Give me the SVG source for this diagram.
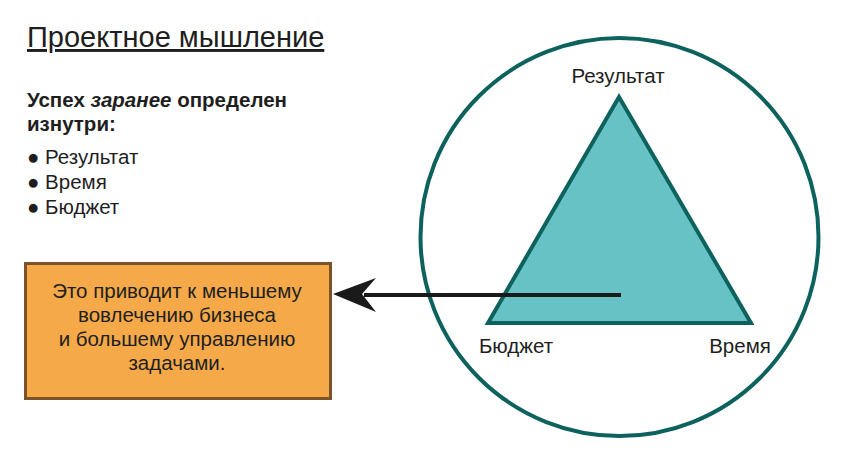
<svg xmlns="http://www.w3.org/2000/svg" width="844" height="463" viewBox="0 0 844 463">
<style>
.t{font-family:"Liberation Sans",Arial,sans-serif;fill:#1e1e1e}
.l{font-size:20.5px}
.b{font-size:20.5px;text-anchor:middle}
.n{font-size:20.5px;text-anchor:middle}
</style>
<rect width="844" height="463" fill="#ffffff"/>
<g id="title">
<text class="t" x="27" y="47" font-size="29" text-decoration="underline">Проектное мышление</text>
</g>
<g id="list">
<text class="t l" x="27" y="107" font-weight="bold">Успех <tspan font-style="italic">заранее</tspan> определен</text>
<text class="t l" x="27" y="131" font-weight="bold">изнутри:</text>
<text class="t l" x="27" y="164">● Результат</text>
<text class="t l" x="27" y="189">● Время</text>
<text class="t l" x="27" y="214">● Бюджет</text>
</g>
<g id="circle">
<circle cx="619.5" cy="237" r="199" fill="none" stroke="#0e625d" stroke-width="4"/>
</g>
<g id="triangle">
<polygon points="619,97 488,323 751,323" fill="#66c2c4" stroke="#0e625d" stroke-width="4" stroke-linejoin="miter"/>
<text class="t n" x="618" y="83">Результат</text>
<text class="t n" x="516" y="353">Бюджет</text>
<text class="t n" x="740" y="353">Время</text>
</g>
<g id="box">
<rect x="25.5" y="263.5" width="305" height="135" fill="#f5a948" stroke="#7d5228" stroke-width="3"/>
<text class="t b" x="177" y="298">Это приводит к меньшему</text>
<text class="t b" x="177" y="322">вовлечению бизнеса</text>
<text class="t b" x="177" y="346">и большему управлению</text>
<text class="t b" x="177" y="370">задачами.</text>
</g>
<g id="connectors">
<line x1="621" y1="295" x2="364" y2="295" stroke="#1a1a1a" stroke-width="4"/>
<polygon points="333,294 376,278 362,294 376,312" fill="#1a1a1a"/>
</g>
</svg>
